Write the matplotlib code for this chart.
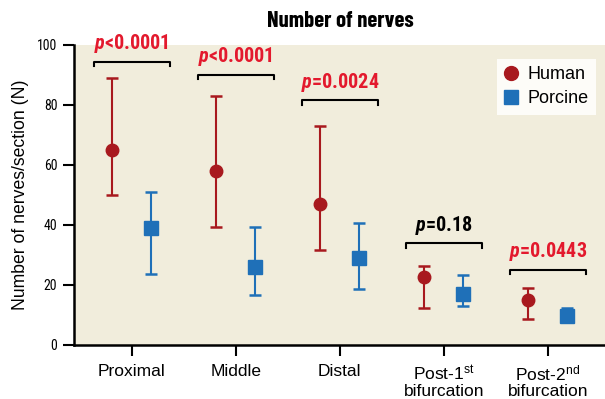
import matplotlib
matplotlib.use("Agg")
import matplotlib.pyplot as plt
from matplotlib.lines import Line2D

# --- données ---
segments = ["Proximal", "Middle", "Distal",
            "Post-1$^{\\mathrm{st}}$\nbifurcation",
            "Post-2$^{\\mathrm{nd}}$\nbifurcation"]
human_mean = [65, 58, 47, 22.6, 14.9]
human_hi = [89, 83, 73, 26.2, 19.0]
human_lo = [50, 39.2, 31.6, 12.3, 8.5]
porcine_mean = [39, 26, 29, 16.8, 9.5]
porcine_hi = [51, 39.2, 40.6, 23.2, 12.3]
porcine_lo = [23.5, 16.5, 18.5, 12.9, 7.6]
bracket_y = [94.2, 90, 81.4, 33.7, 25.0]
p_values = ["<0.0001", "<0.0001", "=0.0024", "=0.18", "=0.0443"]
p_colors = ["#e3192d", "#e3192d", "#e3192d", "black", "#e3192d"]

RED = "#a8191e"
BLUE = "#1f70b8"
COND = "Roboto Condensed"

plt.rcParams["font.family"] = "Liberation Sans"
plt.rcParams["mathtext.fontset"] = "custom"
plt.rcParams["mathtext.rm"] = "Liberation Sans"
plt.rcParams["mathtext.it"] = COND + ":italic:bold"
plt.rcParams["mathtext.bf"] = COND + ":bold"

fig = plt.figure(figsize=(6.05, 3.99), dpi=100)
ax = fig.add_axes([74 / 605, 1 - 344.5 / 399, 1 - 74 / 605, 300 / 399])
ax.set_facecolor("#f1eddc")

x = list(range(len(segments)))
off = 0.1875


def draw(xs, mean, lo, hi, color, marker, ms):
    err = [[m - l for m, l in zip(mean, lo)], [h - m for m, h in zip(mean, hi)]]
    ax.errorbar(xs, mean, yerr=err, fmt=marker, color=color, ms=ms,
                ecolor=color, elinewidth=1.5, capsize=4.5, capthick=1.8,
                zorder=3)


draw([i - off for i in x], human_mean, human_lo, human_hi, RED, "o", 9)
draw([i + off for i in x], porcine_mean, porcine_lo, porcine_hi, BLUE, "s", 9.5)

# crochets et p-valeurs
for i, (by, pv, pc) in enumerate(zip(bracket_y, p_values, p_colors)):
    ax.plot([i - 0.365, i - 0.365, i + 0.365, i + 0.365],
            [by - 1.5, by, by, by - 1.5], color="black", lw=1.5, zorder=2)
    ax.text(i, by + 2.2, "$p$" + pv, color=pc, ha="center", va="bottom",
            family=COND, weight="bold", fontsize=14.5)

ax.set_xlim(-0.555, 4.55)
ax.set_ylim(0, 100)
ax.set_xticks(x)
ax.set_xticklabels(segments, fontsize=12.5, linespacing=1.0)
ax.set_yticks([0, 20, 40, 60, 80, 100])
ax.set_yticklabels(["0", "20", "40", "60", "80", "100"], family=COND, fontsize=10)
ax.tick_params(axis="x", length=8, width=1.5, pad=6)
ax.tick_params(axis="y", length=8, width=1.5, pad=4)
for s in ["top", "right"]:
    ax.spines[s].set_visible(False)
for s in ["left", "bottom"]:
    ax.spines[s].set_linewidth(1.8)

ax.set_ylabel("Number of nerves/section (N)", fontsize=12.7)
ax.yaxis.set_label_coords(-0.085, 0.5)

handles = [Line2D([], [], ls="none", marker="o", ms=10, color=RED),
           Line2D([], [], ls="none", marker="s", ms=10, color=BLUE)]
leg = ax.legend(handles, ["Human", "Porcine"], loc="upper right",
                bbox_to_anchor=(0.983, 0.952), borderaxespad=0, fontsize=13,
                frameon=True, fancybox=False, handlelength=0.8,
                handletextpad=0.5, borderpad=0.4, labelspacing=0.4)
leg.get_frame().set_facecolor("#fdfcf8")
leg.get_frame().set_edgecolor("none")
leg.get_frame().set_alpha(1)

fig.text(340 / 605, 1 - 21 / 399, "Number of nerves", ha="center", va="center",
         family="Barlow Condensed", weight="bold", fontsize=16.3)

fig.savefig("out.png", dpi=100)
